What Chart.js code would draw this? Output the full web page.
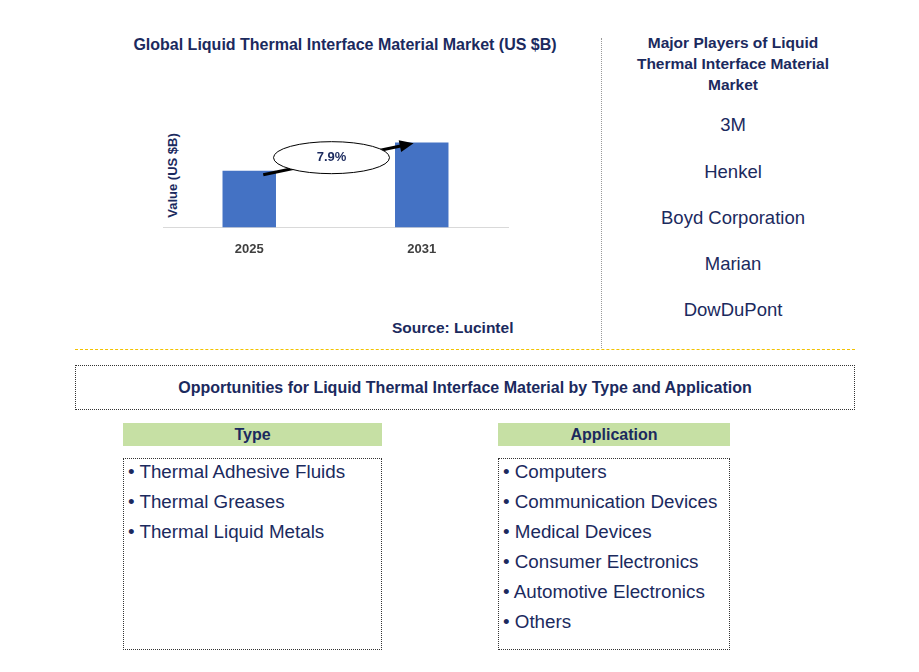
<!DOCTYPE html>
<html>
<head>
<meta charset="utf-8">
<script src="https://cdn.jsdelivr.net/npm/chart.js@4"></script>
<style>
  body { margin: 0; width: 919px; height: 672px; background: #fff; font-family: Arial, "Liberation Sans", sans-serif; position: relative; overflow: hidden; }
  .abs { position: absolute; }
  .title { left: 90px; width: 510px; top: 36px; text-align: center; font-weight: bold; font-size: 16px; color: #1b2a5e; }
  .ylab { left: 102px; top: 168px; width: 140px; transform: rotate(-90deg); text-align: center; font-weight: bold; font-size: 13px; color: #1b2a5e; }
  .source { left: 392px; top: 319px; font-weight: bold; font-size: 15.5px; color: #1b2a5e; }
  .players-h { left: 605px; width: 256px; top: 32px; text-align: center; font-weight: bold; font-size: 15.5px; color: #1b2a5e; line-height: 21px; }
  .player { left: 615px; width: 236px; text-align: center; font-size: 18.5px; color: #1b2a5e; }
  .vline { left: 601px; top: 38px; height: 310px; border-left: 1px dotted #999; }
  .hline { left: 75px; top: 349px; width: 780px; height: 0; border-top: 1.5px dashed #f2c200; }
  .opp { left: 75px; top: 365px; width: 778px; height: 43px; border: 1px dotted #333; text-align: center; line-height: 43px; font-weight: bold; font-size: 16px; color: #1b2a5e; }
  .hdr { top: 423px; height: 23px; background: #c6e0a4; text-align: center; line-height: 23px; font-weight: bold; font-size: 16px; color: #1b2a5e; }
  .list { top: 458px; height: 192px; border: 1px dotted #333; font-size: 18.8px; color: #1b2a5e; padding-top: 1px; box-sizing: border-box; }
  .list div { height: 30px; line-height: 24px; padding-left: 4px; }
</style>
</head>
<body>
<div class="abs title">Global Liquid Thermal Interface Material Market (US $B)</div>
<div class="abs ylab">Value (US $B)</div>
<div class="abs" style="left:160px;top:93px;"><canvas id="c" width="350" height="170"></canvas></div>
<div class="abs source">Source: Lucintel</div>
<div class="abs vline"></div>
<div class="abs players-h" id="ph"></div>
<div id="players"></div>
<div class="abs hline"></div>
<div class="abs opp">Opportunities for Liquid Thermal Interface Material by Type and Application</div>
<div class="abs hdr" style="left:123px;width:259px;">Type</div>
<div class="abs hdr" style="left:498px;width:232px;">Application</div>
<div class="abs list" id="typeList" style="left:123px;width:259px;"></div>
<div class="abs list" id="appList" style="left:498px;width:232px;"></div>
<script>
// Dados do gráfico
const years = ['2025', '2031'];
const marketValues = [2.0, 3.0];
const cagrLabel = '7.9%';
const playersTitle = 'Major Players of Liquid<br>Thermal Interface Material<br>Market';
const players = ['3M', 'Henkel', 'Boyd Corporation', 'Marian', 'DowDuPont'];
const types = ['Thermal Adhesive Fluids', 'Thermal Greases', 'Thermal Liquid Metals'];
const applications = ['Computers', 'Communication Devices', 'Medical Devices', 'Consumer Electronics', 'Automotive Electronics', 'Others'];

document.getElementById('ph').innerHTML = playersTitle;
const playerTops = [114, 161, 207, 253, 299];
players.forEach((p, i) => {
    const d = document.createElement('div');
    d.className = 'abs player';
    d.style.top = playerTops[i] + 'px';
    d.textContent = p;
    document.getElementById('players').appendChild(d);
});
types.forEach(t => {
    const d = document.createElement('div');
    d.textContent = '• ' + t;
    document.getElementById('typeList').appendChild(d);
});
applications.forEach(t => {
    const d = document.createElement('div');
    d.textContent = '• ' + t;
    document.getElementById('appList').appendChild(d);
});

// Plugin para a elipse e a seta do CAGR
const cagrPlugin = {
    id: 'cagr',
    afterDatasetsDraw(chart) {
        const ctx = chart.ctx;
        const meta = chart.getDatasetMeta(0);
        const b0 = meta.data[0], b1 = meta.data[1];
        const x0 = b0.x + 14, y0 = b0.y + 4;
        const x1 = b1.x - 14, y1 = b1.y + 2;
        ctx.save();
        ctx.strokeStyle = '#000';
        ctx.lineWidth = 3;
        ctx.beginPath();
        ctx.moveTo(x0, y0);
        ctx.lineTo(x1, y1);
        ctx.stroke();
        const ang = Math.atan2(y1 - y0, x1 - x0);
        ctx.fillStyle = '#000';
        ctx.beginPath();
        ctx.moveTo(x1 + 6 * Math.cos(ang), y1 + 6 * Math.sin(ang));
        ctx.lineTo(x1 - 8 * Math.cos(ang) + 6 * Math.sin(ang), y1 - 8 * Math.sin(ang) - 6 * Math.cos(ang));
        ctx.lineTo(x1 - 8 * Math.cos(ang) - 6 * Math.sin(ang), y1 - 8 * Math.sin(ang) + 6 * Math.cos(ang));
        ctx.fill();
        const cx = (b0.x + b1.x) / 2 - 4, cy = (y0 + y1) / 2 - 2;
        ctx.fillStyle = '#fff';
        ctx.lineWidth = 1;
        ctx.beginPath();
        ctx.ellipse(cx, cy, 58, 16, 0, 0, Math.PI * 2);
        ctx.fill();
        ctx.stroke();
        ctx.fillStyle = '#1b2a5e';
        ctx.font = 'bold 13px Arial';
        ctx.textAlign = 'center';
        ctx.textBaseline = 'middle';
        ctx.fillText(cagrLabel, cx, cy);
        ctx.restore();
    }
};

new Chart(document.getElementById('c'), {
    type: 'bar',
    data: {
        labels: years,
        datasets: [{ data: marketValues, backgroundColor: '#4472c4', barPercentage: 0.62, categoryPercentage: 0.5 }]
    },
    options: {
        responsive: false,
        animation: false,
        layout: { padding: { left: 3, right: 2, top: 0 } },
        plugins: { legend: { display: false }, tooltip: { enabled: false } },
        scales: {
            x: {
                grid: { display: false },
                border: { color: '#d9d9d9' },
                ticks: { color: '#404040', font: { size: 13, weight: 'bold', family: 'Arial' }, padding: 6 }
            },
            y: { display: false, min: 0, max: 4.75 }
        }
    },
    plugins: [cagrPlugin]
});
</script>
</body>
</html>
